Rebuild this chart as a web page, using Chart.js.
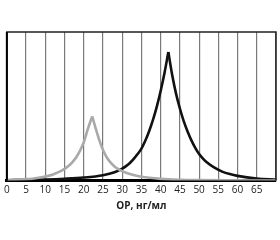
<!DOCTYPE html>
<html>
<head>
<meta charset="utf-8">
<script src="https://cdn.jsdelivr.net/npm/chart.js@4"></script>
<style>
  html, body { margin: 0; padding: 0; background: #fff; }
  #wrap { width: 280px; height: 240px; }
</style>
</head>
<body>
<div id="wrap"><canvas id="chart"></canvas></div>
<script>
// concentration, ng/ml
const grayX = [0, 5, 7, 10, 12, 13, 14, 15, 16, 17, 18, 19, 20, 21, 22.2, 23, 24, 25, 26, 27, 28, 29, 30, 32, 35, 40, 45, 50, 60, 70];
const grayY = [0.003, 0.009, 0.014, 0.027, 0.041, 0.051, 0.063, 0.078, 0.097, 0.122, 0.155, 0.2, 0.258, 0.342, 0.432, 0.36, 0.275, 0.205, 0.155, 0.12, 0.095, 0.077, 0.063, 0.043, 0.025, 0.011, 0.005, 0.0025, 0.001, 0];
const grayPeak = 14;

const blackX = [0, 5, 10, 15, 20, 25, 28, 30, 31, 32, 33, 34, 35, 36, 37, 38, 39, 40, 41, 42, 43, 44, 45, 46, 47, 48, 49, 50, 51, 52, 54, 56, 58, 60, 65, 70];
const blackY = [0.002, 0.004, 0.007, 0.012, 0.02, 0.036, 0.056, 0.08, 0.097, 0.118, 0.145, 0.178, 0.215, 0.268, 0.332, 0.408, 0.498, 0.603, 0.724, 0.865, 0.71, 0.585, 0.485, 0.4, 0.33, 0.27, 0.22, 0.178, 0.148, 0.123, 0.086, 0.06, 0.043, 0.031, 0.013, 0.006];
const blackPeak = 19;

const xTicks = [0, 5, 10, 15, 20, 25, 30, 35, 40, 45, 50, 55, 60, 65];
const xTitle = 'ОР, нг/мл';

function pts(xs, ys, from, to) {
  const out = [];
  for (let i = from; i <= to; i++) out.push({ x: xs[i], y: ys[i] });
  return out;
}

// each curve is split at its peak so the top stays a sharp point
function side(data, color) {
  return {
    data: data,
    borderColor: color,
    borderWidth: 2.6,
    pointRadius: 0,
    fill: false,
    cubicInterpolationMode: 'monotone'
  };
}

const frame = {
  id: 'frame',
  afterDraw(chart) {
    const { ctx, chartArea: a } = chart;
    ctx.save();
    ctx.strokeStyle = '#222';
    ctx.lineWidth = 1.5;
    ctx.beginPath();
    ctx.moveTo(a.left, a.bottom);
    ctx.lineTo(a.left, a.top);
    ctx.lineTo(a.right, a.top);
    ctx.lineTo(a.right, a.bottom);
    ctx.stroke();
    ctx.strokeStyle = '#000';
    ctx.lineWidth = 2;
    ctx.beginPath();
    ctx.moveTo(a.left, a.bottom);
    ctx.lineTo(a.left, a.top);
    ctx.stroke();
    ctx.restore();
  }
};

new Chart(document.getElementById('chart'), {
  type: 'line',
  data: {
    datasets: [
      side(pts(grayX, grayY, 0, grayPeak), '#a9a9a9'),
      side(pts(grayX, grayY, grayPeak, grayX.length - 1), '#a9a9a9'),
      side(pts(blackX, blackY, 0, blackPeak), '#111'),
      side(pts(blackX, blackY, blackPeak, blackX.length - 1), '#111')
    ]
  },
  options: {
    responsive: true,
    maintainAspectRatio: false,
    animation: false,
    layout: { padding: { left: 0, right: 0, top: 32, bottom: 27.5 } },
    plugins: { legend: { display: false }, tooltip: { enabled: false } },
    scales: {
      x: {
        type: 'linear',
        min: 0,
        max: 70,
        afterBuildTicks(scale) {
          scale.ticks = xTicks.concat([70]).map(v => ({ value: v }));
        },
        grid: { color: '#7a7a7a', lineWidth: 1.2, drawTicks: false },
        border: { color: '#000', width: 3 },
        ticks: {
          padding: 4,
          maxRotation: 0,
          autoSkip: false,
          color: '#222',
          font: { family: 'Open Sans', size: 10 },
          callback: v => (xTicks.includes(v) ? String(v) : '')
        },
        title: {
          display: true,
          text: xTitle,
          color: '#222',
          font: { family: 'Open Sans', size: 10, weight: 'bold' },
          padding: { top: 0, bottom: 0 }
        }
      },
      y: {
        display: false,
        min: 0,
        max: 1
      }
    }
  },
  plugins: [frame]
});
</script>
</body>
</html>
